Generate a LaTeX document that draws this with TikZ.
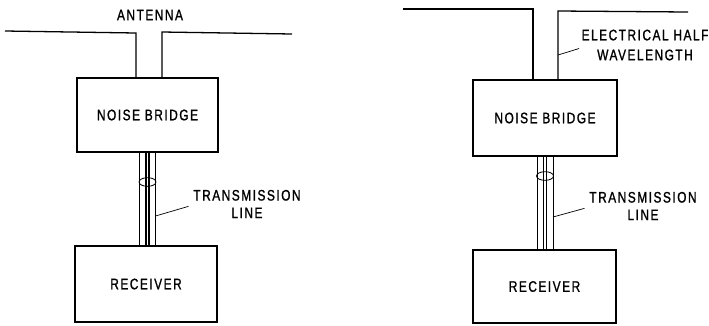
\documentclass[tikz,border=0pt]{standalone}
\usepackage{fontspec}
\newfontfamily\lettering[FakeStretch=0.78,LetterSpace=10,FakeBold=1.2]{Liberation Sans}
\usetikzlibrary{calc}

\tikzset{
  unitbox/.style={draw, line width=1.1pt, inner sep=0pt, font=\lettering\fontsize{13}{15}\selectfont},
  caption/.style={inner sep=0pt, align=center, font=\lettering\fontsize{13}{15}\selectfont},
  wire/.style={line width=1.1pt},
  leader/.style={line width=0.6pt},
  shield/.style={line width=0.7pt}
}

\begin{document}
\begin{tikzpicture}[x=0.03cm, y=-0.03cm]
  \useasboundingbox (0,0) rectangle (709,325);

  % Left set-up: antenna at the bridge
  \node[unitbox, minimum width=4.23cm, minimum height=2.22cm] (bridgeL) at (147.5,115) {NOISE BRIDGE};
  \node[unitbox, minimum width=4.26cm, minimum height=2.28cm] (recvL) at (146,284) {RECEIVER};
  \node[caption] (antL) at (150,15) {ANTENNA};
  \coordinate (dipLa) at (5,31);
  \coordinate (dipLb) at (292,34);
  \coordinate (feedLa) at (136,33);
  \coordinate (feedLb) at (162,32);
  \draw[wire] (dipLa) -- (feedLa) -- (feedLa |- bridgeL.north);
  \draw[wire] (dipLb) -- (feedLb) -- (feedLb |- bridgeL.north);

  % Left coax
  \foreach \dx/\lw in {-8/0.6pt, -1.5/0.9pt, 1.5/0.9pt, 8/0.6pt}
    \draw[line width=\lw] ($(bridgeL.south)+(\dx,0)$) coordinate (t) -- (t |- recvL.north);
  \draw[shield] (147.5,182) ellipse [x radius=0.255cm, y radius=0.13cm];
  \node[caption] (tlL) at (247,204) {TRANSMISSION\\LINE};
  \coordinate (tapL) at (155.5,216);
  \draw[leader] ([xshift=-4pt, yshift=-2pt]tlL.west) -- (tapL);

  % Right set-up: half wave of line to the antenna
  \node[unitbox, minimum width=4.32cm, minimum height=2.28cm] (bridgeR) at (545,118) {NOISE BRIDGE};
  \node[unitbox, minimum width=4.29cm, minimum height=2.19cm] (recvR) at (544.5,286.5) {RECEIVER};
  \coordinate (dipRa) at (403,9);
  \coordinate (dipRb) at (688,12);
  \coordinate (feedRa) at (533,9);
  \coordinate (feedRb) at (558,11);
  \draw[wire] (dipRa) -- (feedRa) -- (feedRa |- bridgeR.north);
  \draw[wire] (dipRb) -- (feedRb) -- (feedRb |- bridgeR.north);
  \node[caption] (ehw) at (645,45) {ELECTRICAL HALF\\[2pt]WAVELENGTH};
  \coordinate (tapW) at (558,55);
  \draw[leader] ([xshift=-2pt, yshift=-3pt]ehw.west) -- (tapW);

  % Right coax
  \foreach \dx/\lw in {-8/0.6pt, -1.5/0.9pt, 1.5/0.9pt, 8/0.6pt}
    \draw[line width=\lw] ($(bridgeR.south)+(\dx,0)$) coordinate (t) -- (t |- recvR.north);
  \draw[shield] (545,176) ellipse [x radius=0.255cm, y radius=0.13cm];
  \node[caption] (tlR) at (643,206) {TRANSMISSION\\LINE};
  \coordinate (tapR) at (553,217);
  \draw[leader] ([xshift=-4pt, yshift=-2pt]tlR.west) -- (tapR);
\end{tikzpicture}
\end{document}
